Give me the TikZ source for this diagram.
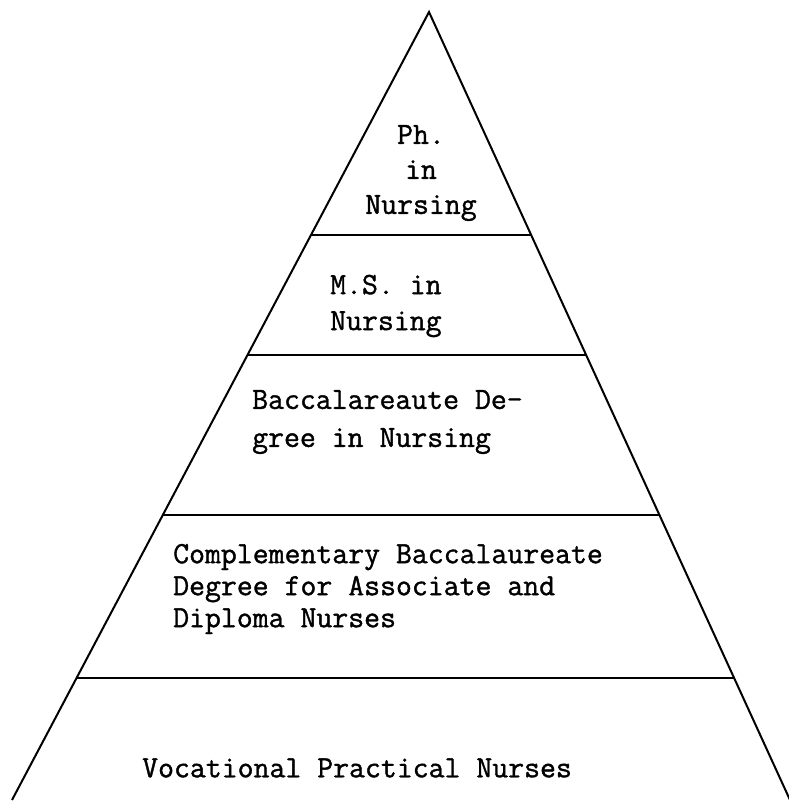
\documentclass[tikz,border=0pt]{standalone}
\usepackage{fontspec}
\newfontfamily\typewriter{Latin Modern Mono}[FakeBold=1.2]
\usetikzlibrary{calc}

\tikzset{
  level text/.style={font=\typewriter\fontsize{30.9}{36}\selectfont, inner sep=0pt, anchor=west, align=left},
  level line/.style={line width=2pt}
}

\begin{document}
\begin{tikzpicture}[x=1pt,y=-1pt]
    \useasboundingbox (0,0) rectangle (788,806);

    \coordinate (top) at (429,12);
    \coordinate (bl) at (12,800);
    \coordinate (br) at (790,800);
    \draw[level line] (bl) -- (top) -- (br);

    % Linee orizzontali tra i livelli della piramide
    \draw[level line] ($(top)!0.283!(bl)$) -- ($(top)!0.283!(br)$);
    \draw[level line] ($(top)!0.435!(bl)$) -- ($(top)!0.435!(br)$);
    \draw[level line] ($(top)!0.638!(bl)$) -- ($(top)!0.638!(br)$);
    \draw[level line] ($(top)!0.845!(bl)$) -- ($(top)!0.845!(br)$);

    \node[level text, anchor=center, align=center, font=\typewriter\fontsize{30.9}{35}\selectfont] (phd) at (421,173) {Ph.\\in\\Nursing};
    \node[level text] (ms) at (330,306) {M.S. in\\Nursing};
    \node[level text, font=\typewriter\fontsize{30.9}{38}\selectfont] (bacc) at (252,422) {Baccalareaute De-\\gree in Nursing};
    \node[level text, font=\typewriter\fontsize{30.9}{32}\selectfont] (compl) at (173,589) {Complementary Baccalaureate\\Degree for Associate and\\Diploma Nurses};
    \node[level text] (voc) at (142,768) {Vocational Practical Nurses};

\end{tikzpicture}
\end{document}
